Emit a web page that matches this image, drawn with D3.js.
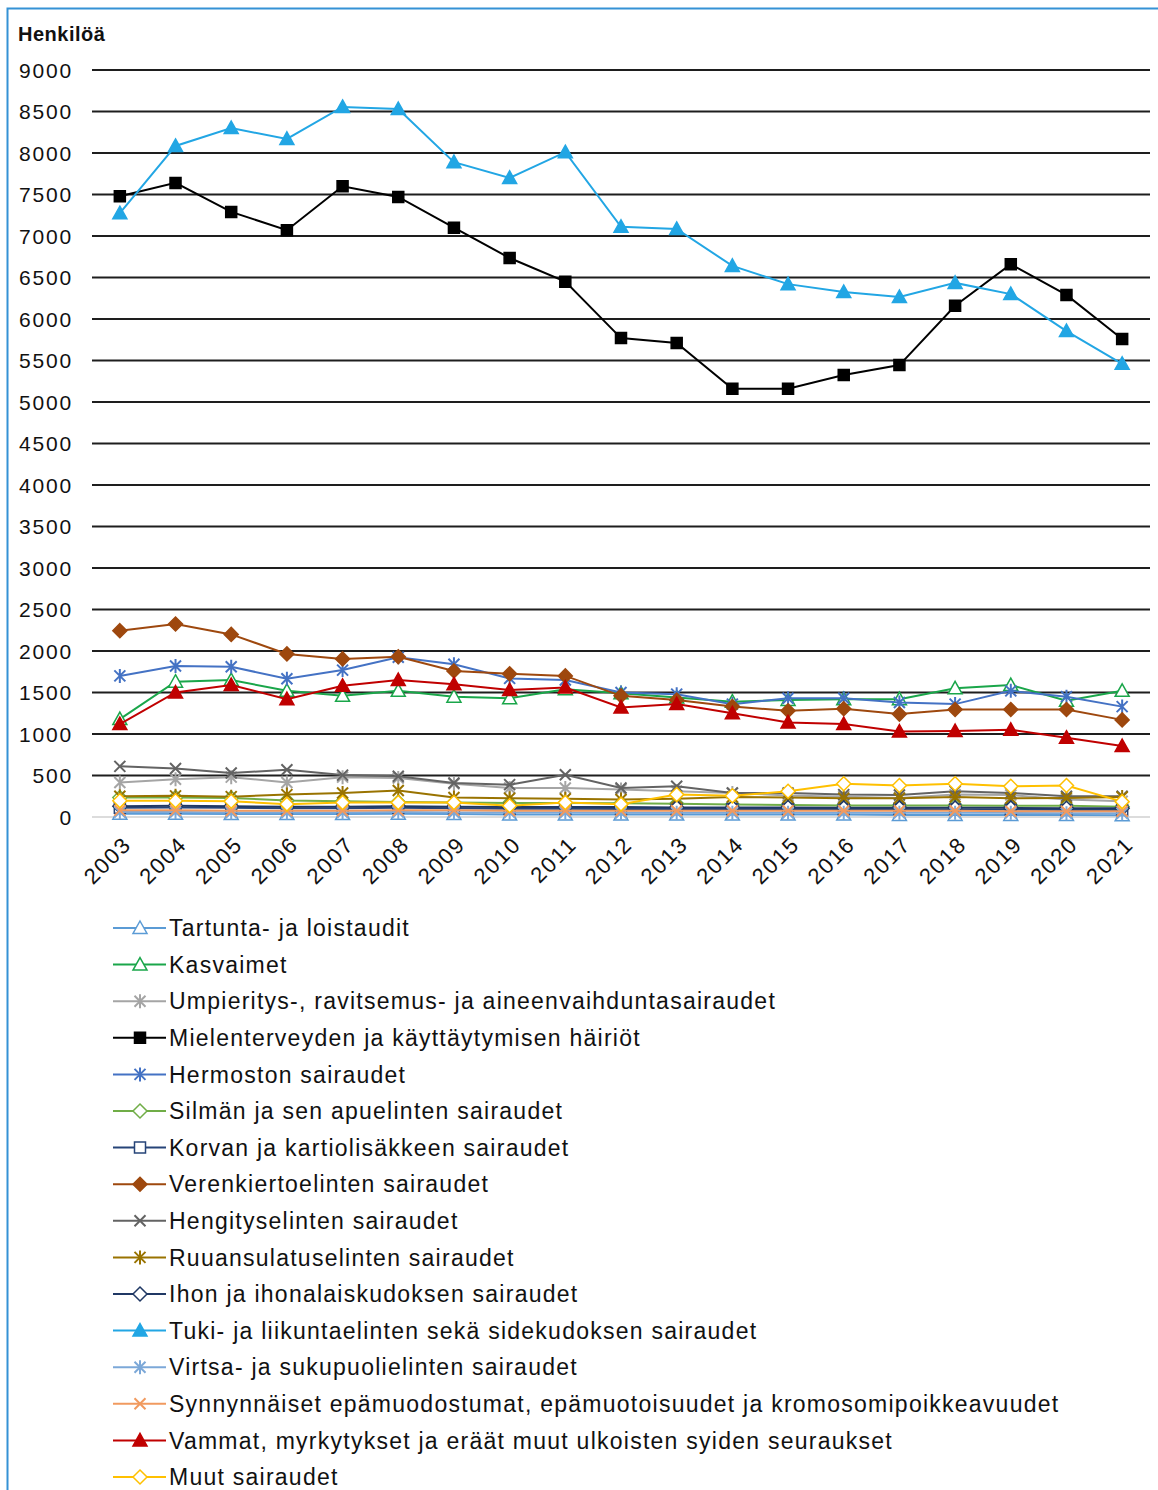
<!DOCTYPE html>
<meta charset="utf-8">
<style>
    body { margin: 0; background-color: #fff; }
    svg text { font-family: "Liberation Sans", Arial, sans-serif; fill: #111; }
    .tick-label { font-size: 21px; letter-spacing: 1.8px; }
    .x-label { font-size: 22px; letter-spacing: 1.8px; }
    .legend-label { font-size: 23px; letter-spacing: 1.25px; }
    .grid line { stroke: #1e1e1e; stroke-width: 1.8px; }
    .series { fill: none; stroke-width: 2px; }
</style>
<body>
<svg width="1158" height="1490"></svg>
<script src="https://d3js.org/d3.v7.min.js"></script>
<script>
    // years and tick labels
    var years = ["2003","2004","2005","2006","2007","2008","2009","2010","2011","2012",
                 "2013","2014","2015","2016","2017","2018","2019","2020","2021"];
    var yTicks = [0,500,1000,1500,2000,2500,3000,3500,4000,4500,5000,5500,6000,6500,7000,7500,8000,8500,9000];

    // series values (persons)
    var tartunta     = [40,40,35,35,35,40,35,30,30,30,30,30,30,30,25,25,25,25,20];
    var kasvaimet    = [1180,1630,1650,1520,1460,1520,1450,1430,1540,1490,1440,1390,1410,1420,1420,1550,1590,1400,1520];
    var umpieritys   = [415,455,480,415,480,470,400,350,350,330,310,290,260,245,230,270,265,210,190];
    var mielenterveys= [7480,7640,7290,7070,7600,7470,7100,6735,6450,5770,5710,5160,5160,5325,5445,6160,6660,6290,5760];
    var hermosto     = [1700,1820,1810,1665,1770,1925,1840,1670,1650,1500,1480,1360,1430,1430,1380,1360,1520,1450,1330];
    var silma        = [235,235,230,200,190,180,175,170,170,165,160,150,145,140,140,140,135,135,125];
    var korva        = [110,115,110,105,105,110,105,100,100,95,95,95,95,95,95,90,90,85,85];
    var verenkierto  = [2245,2325,2200,1965,1905,1930,1760,1725,1700,1460,1410,1330,1280,1305,1240,1295,1295,1295,1170];
    var hengitys     = [610,585,530,570,505,490,410,390,510,350,370,290,290,270,265,310,290,250,250];
    var ruuansulatus = [250,255,245,270,290,320,235,225,220,210,220,240,235,225,225,240,225,230,240];
    var iho          = [130,135,130,125,125,130,125,120,120,120,115,115,115,110,110,110,110,105,105];
    var tuki         = [7275,8085,8300,8170,8555,8530,7890,7700,8010,7110,7085,6640,6420,6325,6265,6435,6300,5855,5460];
    var virtsa       = [60,60,55,55,55,60,55,55,55,50,50,50,50,50,50,50,50,45,45];
    var synnynnaiset = [80,80,75,75,75,80,80,75,75,75,75,75,75,75,75,75,70,70,70];
    var vammat       = [1120,1500,1590,1420,1580,1650,1600,1530,1560,1320,1360,1250,1140,1120,1030,1035,1050,955,855];
    var muut         = [195,195,190,155,175,175,175,135,175,155,270,255,310,400,380,400,370,380,185];

    var series = [
        {name: "Tartunta- ja loistaudit", values: tartunta, color: "#5b9bd5", marker: "triangle", open: true},
        {name: "Kasvaimet", values: kasvaimet, color: "#1aa64a", marker: "triangle", open: true},
        {name: "Umpieritys-, ravitsemus- ja aineenvaihduntasairaudet", values: umpieritys, color: "#a5a5a5", marker: "asterisk"},
        {name: "Mielenterveyden ja käyttäytymisen häiriöt", values: mielenterveys, color: "#000000", marker: "square"},
        {name: "Hermoston sairaudet", values: hermosto, color: "#4472c4", marker: "asterisk"},
        {name: "Silmän ja sen apuelinten sairaudet", values: silma, color: "#70ad47", marker: "diamond", open: true},
        {name: "Korvan ja kartiolisäkkeen sairaudet", values: korva, color: "#264478", marker: "square", open: true},
        {name: "Verenkiertoelinten sairaudet", values: verenkierto, color: "#9e480e", marker: "diamond"},
        {name: "Hengityselinten sairaudet", values: hengitys, color: "#636363", marker: "x"},
        {name: "Ruuansulatuselinten sairaudet", values: ruuansulatus, color: "#997300", marker: "asterisk"},
        {name: "Ihon ja ihonalaiskudoksen sairaudet", values: iho, color: "#203864", marker: "diamond", open: true},
        {name: "Tuki- ja liikuntaelinten sekä sidekudoksen sairaudet", values: tuki, color: "#22a6e4", marker: "triangle"},
        {name: "Virtsa- ja sukupuolielinten sairaudet", values: virtsa, color: "#7ca8d8", marker: "asterisk"},
        {name: "Synnynnäiset epämuodostumat, epämuotoisuudet ja kromosomipoikkeavuudet", values: synnynnaiset, color: "#f19a5f", marker: "x"},
        {name: "Vammat, myrkytykset ja eräät muut ulkoisten syiden seuraukset", values: vammat, color: "#c00000", marker: "triangle"},
        {name: "Muut sairaudet", values: muut, color: "#ffc000", marker: "diamond", open: true}
    ];

    var svg = d3.select("svg"),
        plot = {left: 92, right: 1150, top: 70, bottom: 817};

    // chart border (only top and left edges fall inside the picture)
    svg.append("rect")
        .attr("x", 7.5).attr("y", 8.5)
        .attr("width", 1200).attr("height", 1600)
        .attr("fill", "none")
        .attr("stroke", "#3592d5")
        .attr("stroke-width", 2);

    var x = d3.scaleBand().domain(years).range([plot.left, plot.right]);
    var y = d3.scaleLinear().domain([0, 9000]).range([plot.bottom, plot.top]);
    var cx = function(i) { return x(years[i]) + x.bandwidth() / 2; };

    // gridlines
    svg.append("g")
        .attr("class", "grid")
        .selectAll("line")
        .data(yTicks.filter(function(d) { return d > 0; }))
        .enter().append("line")
        .attr("x1", plot.left).attr("x2", plot.right)
        .attr("y1", function(d) { return y(d); })
        .attr("y2", function(d) { return y(d); });

    // zero axis line
    svg.append("line")
        .attr("x1", plot.left).attr("x2", plot.right)
        .attr("y1", y(0)).attr("y2", y(0))
        .attr("stroke", "#d0d0d0").attr("stroke-width", 1.5);

    // y axis labels
    svg.append("g").selectAll("text")
        .data(yTicks)
        .enter().append("text")
        .attr("class", "tick-label")
        .attr("x", 73)
        .attr("y", function(d) { return y(d); })
        .attr("dy", "0.36em")
        .attr("text-anchor", "end")
        .text(function(d) { return d; });

    svg.append("text")
        .attr("x", 18).attr("y", 41)
        .style("font-size", "20px")
        .style("font-weight", "bold")
        .style("letter-spacing", "0.5px")
        .text("Henkilöä");

    // x axis labels
    svg.append("g").selectAll("text")
        .data(years)
        .enter().append("text")
        .attr("class", "x-label")
        .attr("text-anchor", "end")
        .attr("transform", function(d) {
            return "translate(" + (x(d) + x.bandwidth() / 2 + 5) + "," + 838 + ") rotate(-45)";
        })
        .attr("dy", "0.5em")
        .text(function(d) { return d; });

    function markerPath(type) {
        switch (type) {
            case "triangle": return "M0,-7L7,5.5L-7,5.5Z";
            case "square": return "M-5.5,-5.5L5.5,-5.5L5.5,5.5L-5.5,5.5Z";
            case "diamond": return "M0,-7L7,0L0,7L-7,0Z";
            case "asterisk": return "M-5.5,-5.5L5.5,5.5M-5.5,5.5L5.5,-5.5M0,-7L0,7";
            case "x": return "M-5.5,-5.5L5.5,5.5M-5.5,5.5L5.5,-5.5";
        }
    }

    function drawMarker(sel, s) {
        var solid = s.marker === "asterisk" || s.marker === "x";
        sel.append("path")
            .attr("d", markerPath(s.marker))
            .attr("fill", solid ? "none" : (s.open ? "#fff" : s.color))
            .attr("stroke", s.color)
            .attr("stroke-width", solid ? 2 : 1.5);
    }

    var line = d3.line()
        .x(function(d, i) { return cx(i); })
        .y(function(d) { return y(d); });

    series.forEach(function(s) {
        var g = svg.append("g");
        g.append("path")
            .datum(s.values)
            .attr("class", "series")
            .attr("stroke", s.color)
            .attr("d", line);
        s.values.forEach(function(v, i) {
            drawMarker(g.append("g").attr("transform", "translate(" + cx(i) + "," + y(v) + ")"), s);
        });
    });

    // legend
    var legend = svg.append("g");
    series.forEach(function(s, i) {
        var ly = 928 + i * 36.6;
        var item = legend.append("g").attr("transform", "translate(0," + ly + ")");
        item.append("line")
            .attr("x1", 113).attr("x2", 166)
            .attr("stroke", s.color).attr("stroke-width", 2);
        drawMarker(item.append("g").attr("transform", "translate(140,0)"), s);
        item.append("text")
            .attr("class", "legend-label")
            .attr("x", 169)
            .attr("dy", "0.36em")
            .text(s.name);
    });
</script>
</body>
